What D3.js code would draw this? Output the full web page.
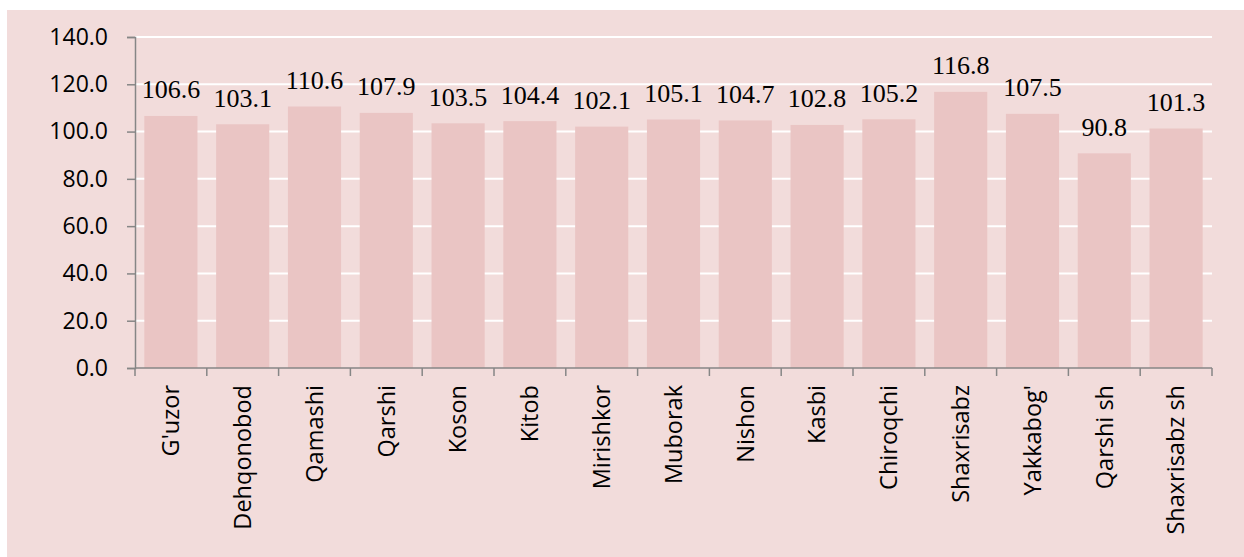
<!DOCTYPE html>
<html>
<head>
<meta charset="utf-8">
<script src="https://d3js.org/d3.v7.min.js"></script>
<style>
  body { margin: 0; background: #ffffff; }
  svg { display: block; }
</style>
</head>
<body>
<svg id="chart" width="1244" height="557"></svg>
<script>
// data
var districts = ["G'uzor", "Dehqonobod", "Qamashi", "Qarshi", "Koson", "Kitob", "Mirishkor",
  "Muborak", "Nishon", "Kasbi", "Chiroqchi", "Shaxrisabz", "Yakkabog'", "Qarshi sh", "Shaxrisabz sh"];
var values = [106.6, 103.1, 110.6, 107.9, 103.5, 104.4, 102.1, 105.1, 104.7, 102.8, 105.2, 116.8, 107.5, 90.8, 101.3];
var yTicks = [0, 20, 40, 60, 80, 100, 120, 140];

var svg = d3.select("#chart");

// panel background
svg.append("rect")
  .attr("x", 7).attr("y", 10)
  .attr("width", 1237).attr("height", 547)
  .attr("fill", "#f2dcdb");

var plotL = 135, plotR = 1212, plotT = 37, plotB = 368;

var x = d3.scaleBand()
  .domain(districts)
  .range([plotL, plotR])
  .paddingInner(0.26)
  .paddingOuter(0.13);

var y = d3.scaleLinear()
  .domain([0, 140])
  .range([plotB, plotT]);

// gridlines
svg.append("g")
  .selectAll("line")
  .data(yTicks.slice(1))
  .enter().append("line")
  .attr("x1", plotL).attr("x2", plotR)
  .attr("y1", function (d) { return y(d); })
  .attr("y2", function (d) { return y(d); })
  .attr("stroke", "#ffffff")
  .attr("stroke-width", 2);

// bars
svg.append("g")
  .selectAll("rect")
  .data(values)
  .enter().append("rect")
  .attr("x", function (d, i) { return x(districts[i]); })
  .attr("y", function (d) { return y(d); })
  .attr("width", x.bandwidth())
  .attr("height", function (d) { return y(0) - y(d); })
  .attr("fill", "#eac5c4");

// value labels
svg.append("g")
  .selectAll("text")
  .data(values)
  .enter().append("text")
  .attr("x", function (d, i) { return x(districts[i]) + x.bandwidth() / 2; })
  .attr("y", function (d) { return y(d) - 17.5; })
  .attr("text-anchor", "middle")
  .style("font-family", "'Liberation Serif', 'Times New Roman', serif")
  .style("font-size", "26px")
  .attr("fill", "#000")
  .text(function (d) { return d.toFixed(1); });

// y axis
var yAxis = d3.axisLeft(y)
  .tickValues(yTicks)
  .tickSize(8)
  .tickPadding(19)
  .tickFormat(function (d) { return d.toFixed(1); });

var gy = svg.append("g")
  .attr("transform", "translate(" + plotL + ",0)")
  .call(yAxis);
gy.select(".domain").attr("stroke", "#868686").attr("stroke-width", 1.5);
gy.selectAll(".tick line").attr("stroke", "#868686").attr("stroke-width", 1.5);
gy.selectAll(".tick text")
  .style("font-family", "'Open Sans', 'Noto Sans', sans-serif")
  .style("font-size", "23px")
  .attr("fill", "#000");

// x axis (ticks on category boundaries)
var gx = svg.append("g")
  .attr("transform", "translate(0," + plotB + ")");
gx.append("line")
  .attr("x1", plotL).attr("x2", plotR)
  .attr("stroke", "#868686").attr("stroke-width", 1.5);
var step = x.step();
var bounds = d3.range(districts.length + 1).map(function (i) {
  return x(districts[0]) - x.paddingOuter() * step + i * step;
});
gx.selectAll(".bt")
  .data(bounds)
  .enter().append("line")
  .attr("class", "bt")
  .attr("x1", function (d) { return d; })
  .attr("x2", function (d) { return d; })
  .attr("y1", 0).attr("y2", 8)
  .attr("stroke", "#868686").attr("stroke-width", 1.5);

gx.selectAll(".lbl")
  .data(districts)
  .enter().append("text")
  .attr("class", "lbl")
  .attr("transform", function (d) {
    return "translate(" + (x(d) + x.bandwidth() / 2) + ",17) rotate(-90)";
  })
  .attr("dy", "0.35em")
  .attr("text-anchor", "end")
  .style("font-family", "'Open Sans', 'Noto Sans', sans-serif")
  .style("font-size", "23.5px")
  .attr("fill", "#000")
  .text(function (d) { return d; });
</script>
</body>
</html>
